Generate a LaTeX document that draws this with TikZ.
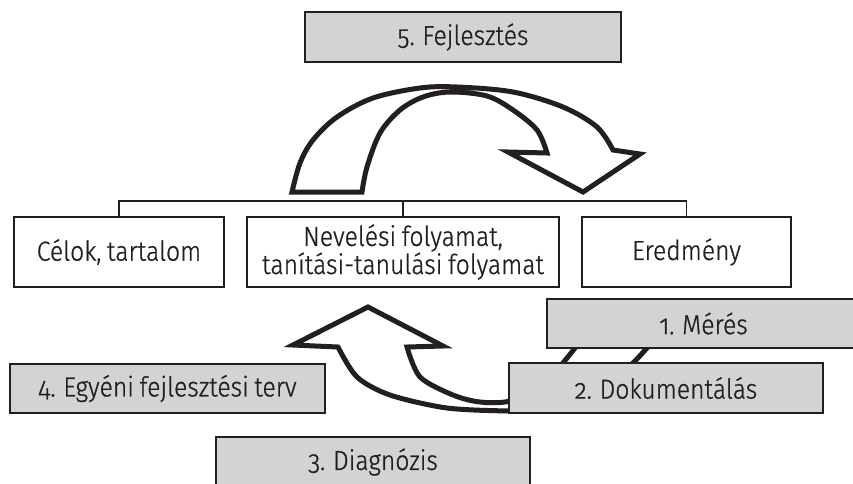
\documentclass[tikz,border=0pt]{standalone}
\usepackage{fontspec}
\setmainfont{Fira Sans Light}[Numbers=OldStyle, FakeStretch=0.9, WordSpace=0.8,
  BoldFont={Fira Sans Light}, BoldFeatures={FakeBold=0.8}]
\definecolor{ink}{HTML}{231F20}
\definecolor{boxgray}{HTML}{D1D3D4}
\begin{document}
\begin{tikzpicture}[x=1pt,y=-1pt,
  base/.style={draw=ink, line width=1.8pt, text=ink, inner sep=0pt, align=center,
     font=\fontsize{27.5}{24}\selectfont\bfseries},
  whitebox/.style={base, fill=white},
  graybox/.style={base, fill=boxgray},
  bigarrow/.style={draw=ink, fill=white, line width=5pt, line join=miter, miter limit=10},
  bracket/.style={draw=ink, line width=1.8pt}]
\useasboundingbox (0,0) rectangle (853,483);
% top arrow
\draw[bigarrow] plot[smooth, tension=0.55] coordinates {(292,192) (300,163) (313,140) (337,117) (373,98) (420,88) (457,87) (513,92) (563,107) (597,127) (613,150)}
  -- (640,154) -- (583,192) -- (508,152)
  -- plot[smooth, tension=0.55] coordinates {(547,153) (537,130) (513,110) (487,96) (450,92) (423,97) (400,110) (380,133) (367,167) (362,192)} -- cycle;
% bottom arrow
\draw[bigarrow] plot[smooth, tension=0.5] coordinates {(407,347) (420,377) (453,395) (480,402) (510,401) (545,385) (563,363) (575,348) (585,335)}
  -- plot[smooth, tension=0.5] coordinates {(659,335) (647,348) (633,363) (600,395) (545,410) (510,411) (447,408) (390,395) (357,377) (338,347)}
  -- (293,345) -- (368,307) -- (443,346) -- cycle;
% boxes
\node[graybox, minimum width=316pt, minimum height=50pt] (f5) at (463,37) {5. Fejlesztés};
\node[whitebox, minimum width=210pt, minimum height=70pt] (c1) at (119,252) {Célok, tartalom};
\node[whitebox, minimum width=312pt, minimum height=70pt] (c2) at (403,252) {Nevelési folyamat,\\tanítási-tanulási folyamat};
\node[whitebox, minimum width=209pt, minimum height=70pt] (c3) at (686.5,252) {Eredmény};
\node[graybox, minimum width=313pt, minimum height=49pt] (m1) at (703.5,323.5) {1. Mérés};
\node[graybox, minimum width=314pt, minimum height=50pt] (d2) at (666,388) {2. Dokumentálás};
\node[graybox, minimum width=315pt, minimum height=49pt] (e4) at (167.5,388.5) {4. Egyéni fejlesztési terv};
\node[graybox, minimum width=314pt, minimum height=50pt] (g3) at (373,462) {3. Diagnózis};
% bracket
\draw[bracket] (c1.north) -- ++(0,-15) -| (c3.north);
\draw[bracket] (c2.north) -- ++(0,-15);
\end{tikzpicture}
\end{document}
